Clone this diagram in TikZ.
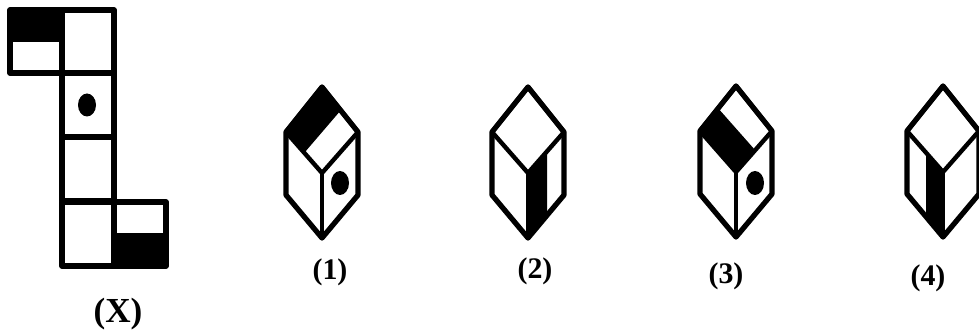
\documentclass[tikz,border=0pt]{standalone}
\usepackage{fontspec}
\setmainfont{Liberation Serif}
\usepackage{tikz}
\tikzset{
  netline/.style={line width=3pt,line join=round},
  cubeline/.style={line width=3pt,line join=round},
  edgeline/.style={line width=2.5pt},
  spine/.style={line width=2pt},
  rotulo/.style={font=\bfseries\fontsize{17}{19}\selectfont}
}
\begin{document}
\begin{tikzpicture}[x=0.02cm,y=-0.02cm]
\useasboundingbox (0,0) rectangle (979,330);
% plantilla desplegada
\fill (10,10) rectangle (62,42);
\fill (114,233) rectangle (166,266);
\draw[netline] (10,10) rectangle (62,73);
\draw[netline] (62,10) rectangle (114,73);
\foreach \y in {73,137,202} \draw[netline] (62,\y) rectangle (114,\y+64);
\draw[netline] (114,202) rectangle (166,266);
\fill (87,105) ellipse (9 and 11.5);
\node[rotulo,font=\bfseries\fontsize{20}{22}\selectfont] (labX) at (118,314) {(X)};
% bandas negras de los cubos
\fill (322,87) -- (341,110) -- (305,152) -- (287,132) -- cycle;
\fill (528,173) -- (547,152) -- (547,216) -- (528,238) -- cycle;
\fill (698,130) -- (717,107) -- (755,150) -- (736,172) -- cycle;
\fill (926,152) -- (943,172) -- (944,238) -- (926,216) -- cycle;
% cubos
\foreach \cx/\cy in {322/173,528/173,736/172,943/172}{
  \begin{scope}[shift={(\cx,\cy)}]
    \draw[cubeline] (0,-86) -- (36,-41) -- (36,22) -- (0,65) -- (-36,22) -- (-36,-41) -- cycle;
    \draw[edgeline] (-36,-41) -- (0,0) -- (36,-41);
    \draw[spine] (0,0) -- (0,65);
  \end{scope}
}
\fill (340,183) ellipse (9 and 12);
\fill (755,183) ellipse (9 and 12);
% rotulos
\foreach \n/\lx/\ly in {1/330/272,2/535/271,3/726/276,4/928/278}
  \node[rotulo] (lab\n) at (\lx,\ly) {(\n)};
\end{tikzpicture}
\end{document}
